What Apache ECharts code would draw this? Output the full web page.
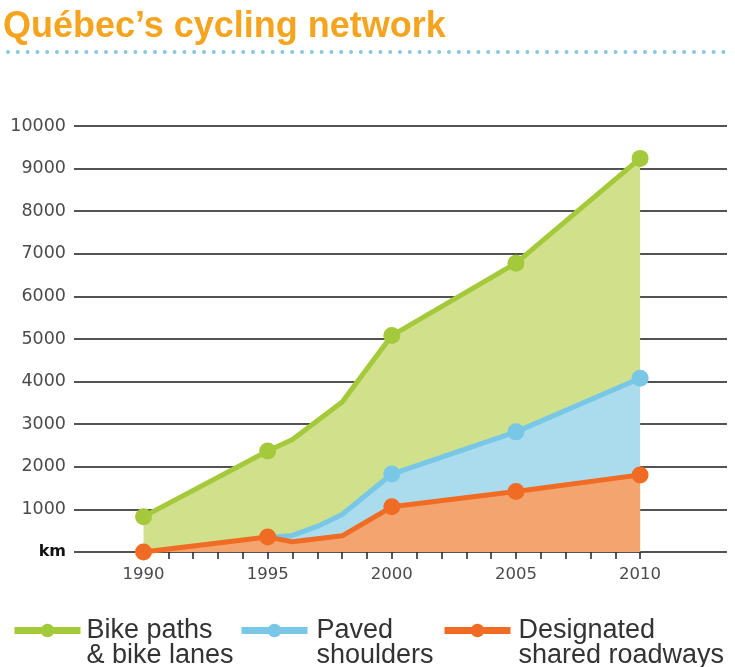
<!DOCTYPE html>
<html>
<head>
<meta charset="utf-8">
<script src="https://cdn.jsdelivr.net/npm/echarts@6/dist/echarts.min.js"></script>
<style>
html, body { margin: 0; padding: 0; background: #fff; }
#main { width: 735px; height: 667px; }
</style>
</head>
<body>
<div id="main"></div>
<script>
// data (km)
var bikeYears = [1990, 1995, 1996, 1998, 2000, 2005, 2010];
var bikeKm = [830, 2370, 2640, 3520, 5080, 6780, 9240];

var pavedYears = [1995, 1996, 1997, 1998, 2000, 2005, 2010];
var pavedKm = [340, 390, 600, 880, 1830, 2820, 4080];

var sharedYears = [1990, 1995, 1996, 1998, 2000, 2005, 2010];
var sharedKm = [0, 350, 240, 380, 1060, 1420, 1810];

var labelYears = [1990, 1995, 2000, 2005, 2010];
var tickYears = [1990, 1991, 1992, 1993, 1994, 1995, 1996, 1997, 1998, 1999, 2000,
	2001, 2002, 2003, 2004, 2005, 2006, 2007, 2008, 2009, 2010];

var names = ['Bike paths\n& bike lanes', 'Paved\nshoulders', 'Designated\nshared roadways'];

function pairs(xs, ys) {
	var out = [];
	for (var i = 0; i < xs.length; i++) {
		out.push([xs[i], ys[i]]);
	}
	return out;
}

// markers only on the 5-year points
function markSize(val) {
	return val[0] % 5 === 0 ? 17 : 0;
}

var chartDom = document.getElementById('main');
var myChart = echarts.init(chartDom, null, { renderer: 'canvas' });

var option = {
	animation: false,
	title: {
		text: 'Québec’s cycling network',
		left: 3,
		top: 9,
		padding: 0,
		textStyle: {
			fontFamily: 'Liberation Sans',
			fontWeight: 'bold',
			fontSize: 36,
			color: '#f5a41f'
		}
	},
	graphic: [{
		type: 'line',
		shape: { x1: 8, y1: 52, x2: 731, y2: 52 },
		style: {
			stroke: '#86c8e0',
			lineWidth: 4,
			lineCap: 'round',
			lineDash: [0, 9.8]
		}
	}],
	legend: [0, 1, 2].map(function(i) {
		var lefts = [11, 238, 441];
		var gaps = [1, 4, 3];
		return {
			data: [names[i]],
			left: lefts[i],
			top: 592,
			padding: 0,
			itemWidth: 66,
			itemHeight: 17,
			itemGap: 0,
			selectedMode: false,
			lineStyle: { width: 7 },
			// blank first row so the icon sits level with the first text line
			formatter: function(name) {
				return ' \n' + name;
			},
			textStyle: {
				fontFamily: 'Liberation Sans',
				fontSize: 27,
				lineHeight: 25,
				color: '#333',
				padding: [0, 0, 0, gaps[i]]
			}
		};
	}),
	grid: {
		left: 74,
		right: 8,
		top: 126,
		bottom: 115,
		containLabel: false
	},
	xAxis: {
		type: 'value',
		min: 1987.2,
		max: 2013.5,
		splitLine: { show: false },
		axisLine: { show: false },
		axisTick: {
			show: true,
			customValues: tickYears,
			length: 7,
			lineStyle: { color: '#222', width: 1.5 }
		},
		axisLabel: {
			customValues: labelYears,
			margin: 14,
			fontFamily: 'DejaVu Sans',
			fontSize: 16.5,
			color: '#4a4a4a',
			formatter: function(v) {
				return String(v);
			}
		}
	},
	yAxis: {
		type: 'value',
		min: 0,
		max: 10000,
		interval: 1000,
		axisLine: { show: false },
		axisTick: { show: false },
		splitLine: {
			lineStyle: { color: '#1a1a1a', width: 1.5 }
		},
		axisLabel: {
			margin: 8,
			fontFamily: 'DejaVu Sans',
			fontSize: 17.5,
			color: '#4a4a4a',
			formatter: function(v) {
				return v === 0 ? '{km|km}' : String(v);
			},
			rich: {
				km: {
					fontFamily: 'DejaVu Sans',
					fontWeight: 'bold',
					fontSize: 16,
					color: '#111'
				}
			}
		}
	},
	series: [{
		name: names[0],
		type: 'line',
		data: pairs(bikeYears, bikeKm),
		symbol: 'circle',
		symbolSize: markSize,
		itemStyle: { color: '#a4c93b' },
		lineStyle: { color: '#a4c93b', width: 5 },
		areaStyle: { color: '#d0e08b', opacity: 1 },
		z: 2
	}, {
		name: names[1],
		type: 'line',
		data: pairs(pavedYears, pavedKm),
		symbol: 'circle',
		symbolSize: markSize,
		itemStyle: { color: '#78c7e6' },
		lineStyle: { color: '#78c7e6', width: 5 },
		areaStyle: { color: '#aadcee', opacity: 1 },
		z: 3
	}, {
		name: names[2],
		type: 'line',
		data: pairs(sharedYears, sharedKm),
		symbol: 'circle',
		symbolSize: markSize,
		itemStyle: { color: '#f06c24' },
		lineStyle: { color: '#f06c24', width: 5 },
		areaStyle: { color: '#f4a46e', opacity: 1 },
		z: 4
	}]
};

option && myChart.setOption(option);
</script>
</body>
</html>
